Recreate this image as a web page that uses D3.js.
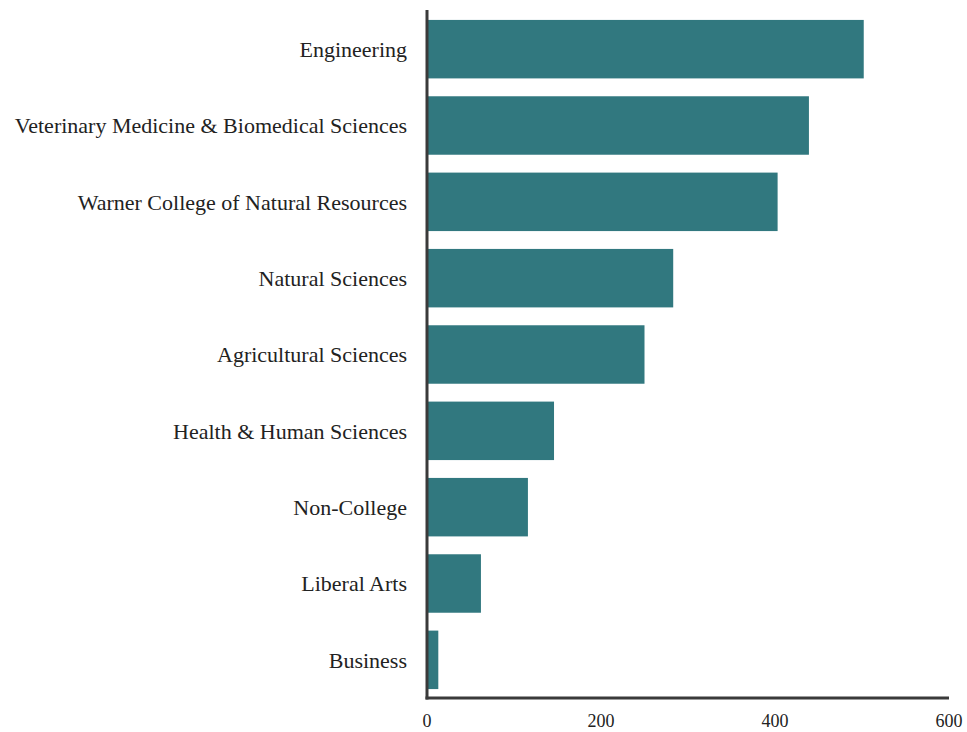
<!DOCTYPE html>
<html><head><meta charset="utf-8">
<script src="https://cdn.jsdelivr.net/npm/d3@7"></script>
<style>body{margin:0;background:#fff}svg{display:block}</style>
</head><body>
<script>
const categories = ["Engineering","Veterinary Medicine & Biomedical Sciences","Warner College of Natural Resources","Natural Sciences","Agricultural Sciences","Health & Human Sciences","Non-College","Liberal Arts","Business"];
const values = [502, 439, 403, 283, 250, 146, 116, 62, 13];
const ticks = [0, 200, 400, 600];

const W = 967, H = 732;
const mLeft = 427, mRight = 949, mTop = 11, mBottom = 698;
const svg = d3.select("body").append("svg").attr("width", W).attr("height", H);
const x = d3.scaleLinear().domain([0, 600]).range([mLeft, mRight]);
const y = d3.scaleBand().domain(categories).range([mTop, mBottom]).paddingInner(0.234).paddingOuter(0.117);

svg.selectAll("rect.bar").data(categories).enter().append("rect")
  .attr("class","bar")
  .attr("x", x(0))
  .attr("y", d => y(d))
  .attr("width", (d,i) => x(values[i]) - x(0))
  .attr("height", y.bandwidth())
  .attr("fill", "#31787f");

svg.selectAll("text.cat").data(categories).enter().append("text")
  .attr("class","cat")
  .attr("x", mLeft - 20)
  .attr("y", d => y(d) + y.bandwidth()/2)
  .attr("dy", "0.35em")
  .attr("text-anchor","end")
  .style("font-family","'Liberation Serif', serif")
  .style("font-size","22px")
  .attr("fill","#222")
  .text(d => d);

svg.append("line").attr("x1", mLeft).attr("x2", mLeft).attr("y1", 10).attr("y2", mBottom+1.5)
  .attr("stroke","#3a3a3a").attr("stroke-width",3);
svg.append("line").attr("x1", mLeft-1.5).attr("x2", mRight).attr("y1", mBottom).attr("y2", mBottom)
  .attr("stroke","#3a3a3a").attr("stroke-width",3);

svg.selectAll("text.tick").data(ticks).enter().append("text")
  .attr("class","tick")
  .attr("x", d => x(d))
  .attr("y", 727)
  .attr("text-anchor","middle")
  .style("font-family","'Liberation Serif', serif")
  .style("font-size","18px")
  .attr("fill","#222")
  .text(d => d);
</script>
</body></html>
